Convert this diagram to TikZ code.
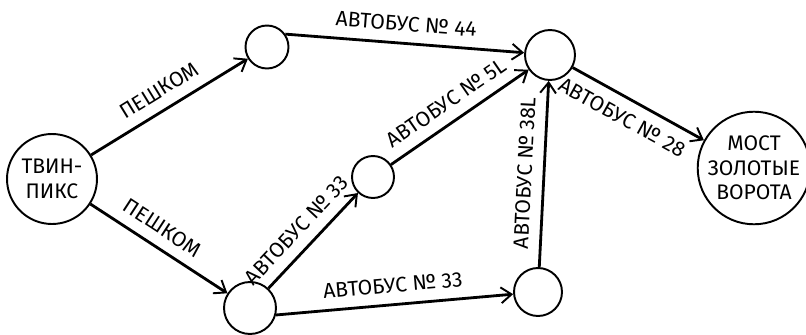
\documentclass[tikz,border=0pt]{standalone}
\usepackage{fontspec}
\setmainfont{Fira Sans}
\usetikzlibrary{arrows.meta}
\begin{document}
\begin{tikzpicture}[x=0.02cm,y=-0.02cm,
  stop/.style={draw, circle, line width=1.1pt, inner sep=0pt, align=center, font=\large},
  route/.style={line width=1.6pt, -{Straight Barb[length=6pt,width=9pt,line width=1.1pt]}},
  lbl/.style={sloped, font=\large, inner sep=6pt}]
\useasboundingbox (0,0) rectangle (806,335);
% stops
\node[stop, minimum size=1.8cm] (twin) at (52,179) {ТВИН-\\ПИКС};
\node[stop, minimum size=0.86cm] (top) at (267,47) {};
\node[stop, minimum size=1.0cm] (hub) at (550,55) {};
\node[stop, minimum size=0.84cm] (mid) at (373,177) {};
\node[stop, minimum size=1.04cm] (low) at (250,308) {};
\node[stop, minimum size=0.96cm] (lowr) at (538,292) {};
\node[stop, minimum size=2.0cm] (gate) at (754,168) {МОСТ\\ЗОЛОТЫЕ\\ВОРОТА};
% routes
\draw[route] (twin) -- node[lbl, above] {ПЕШКОМ} (top);
\draw[route] (twin) -- node[lbl, above, pos=0.45] {ПЕШКОМ} (low);
\draw[route] (top.35) -- node[lbl, above] {АВТОБУС № 44} (hub.175);
\draw[route] (low) -- node[lbl, above, pos=0.47] {АВТОБУС № 33} (mid);
\draw[route] (mid) -- node[lbl, above, pos=0.48] {АВТОБУС № 5L} (hub);
\draw[route] (low.-15) -- node[lbl, above] {АВТОБУС № 33} (lowr.185);
\draw[route] (lowr) -- node[lbl, above] {АВТОБУС № 38L} (hub);
\draw[route] (hub) -- node[lbl, below, pos=0.45] {АВТОБУС № 28} (gate);
\end{tikzpicture}
\end{document}
